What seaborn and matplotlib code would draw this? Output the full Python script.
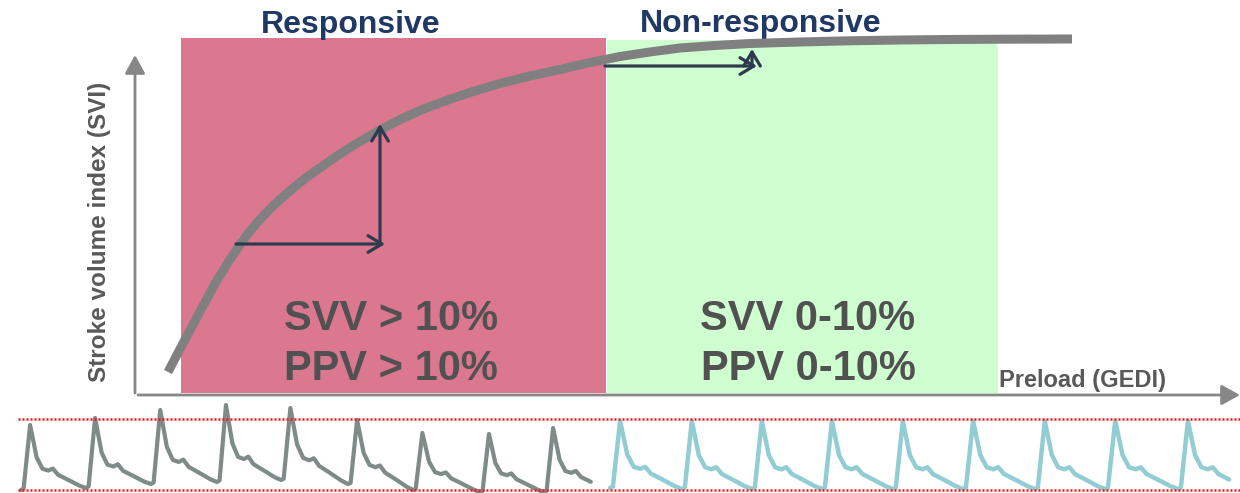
import numpy as np
import pandas as pd
import seaborn as sns
import matplotlib.pyplot as plt
from matplotlib.patches import Rectangle

# Frank-Starling curve, in diagram coordinates (x to the right, y downward)
curve_x = [168, 180, 192, 204, 216, 228, 240, 250, 260, 270, 280, 292, 305,
           320, 335, 350, 365, 380, 400, 420, 445, 470, 500, 530, 560, 590,
           620, 650, 680, 715, 750, 800, 850, 900, 950, 1000, 1072]
curve_y = [372, 349, 326.5, 304, 282, 262.5, 244.5, 231, 219.5, 209, 199.5,
           189, 178.5, 167.8, 157.3, 147.5, 138.5, 130, 119.6, 110.4, 101,
           92.5, 83.5, 76, 69.5, 62.5, 56.5, 52, 48, 45.5, 43.5, 42, 40.8,
           40, 39.5, 39.2, 39]

# One arterial pulse, as phase of the beat vs. normalised pressure level
pulse_phase = [0.00, 0.04, 0.14, 0.19, 0.24, 0.33, 0.42, 0.49, 0.57, 0.72, 0.90, 1.00]
pulse_level = [0.00, 0.02, 1.00, 0.75, 0.50, 0.32, 0.29, 0.32, 0.22, 0.14, 0.04, 0.00]

# Pressure trace under the responsive zone (large respiratory swing)
left_beat_starts = [21, 86, 151, 217, 281, 348, 413, 480, 544, 609]
left_troughs = [490, 488, 484, 482, 480, 484, 490, 492, 492, 490]
left_peaks = [425, 418, 410, 405, 408, 420, 433, 434, 428]

# Pressure trace under the non-responsive zone (flat peaks)
right_beat_starts = [610, 682, 752, 822, 893, 963, 1035, 1105, 1178, 1249]
right_troughs = [488, 489, 489, 489, 489, 489, 489, 489, 489, 489]
right_peaks = [421, 421, 421, 421, 421, 421, 421, 421, 421]

zone_labels = ["Responsive", "Non-responsive"]
zone_variation = [["SVV > 10%", "PPV > 10%"], ["SVV 0-10%", "PPV 0-10%"]]
y_label = "Stroke volume index (SVI)"
x_label = "Preload (GEDI)"


def build_trace(starts, troughs, peaks, x_max):
    xs, ys = [], []
    for i, peak in enumerate(peaks):
        x0, x1 = starts[i], starts[i + 1]
        t0, t1 = troughs[i], troughs[i + 1]
        for ph, lv in zip(pulse_phase, pulse_level):
            if i < len(peaks) - 1 and ph == 1.0:
                continue
            x = x0 + ph * (x1 - x0)
            if x > x_max:
                break
            base = t0 + ph * (t1 - t0)
            xs.append(x)
            ys.append(base - lv * (base - peak))
    return pd.DataFrame({"x": xs, "y": ys})


sns.set_theme(style="white")
plt.rcParams["font.family"] = ["Liberation Sans", "DejaVu Sans"]

fig = plt.figure(figsize=(12.4, 4.93), dpi=100)
ax = fig.add_axes([0, 0, 1, 1])
ax.set_xlim(0, 1240)
ax.set_ylim(493, 0)
ax.axis("off")

# zone backgrounds
ax.add_patch(Rectangle((181, 38), 424.5, 355, facecolor="#DB778F", lw=0, zorder=1))
ax.add_patch(Rectangle((607, 40), 391, 353, facecolor="#CFFFD0", lw=0, zorder=1))

# axes with arrowheads
axis_style = dict(arrowstyle="-|>,head_length=0.4,head_width=0.22", color="#878787",
                  lw=2, mutation_scale=28, shrinkA=0, shrinkB=0)
ax.annotate("", xy=(135, 55), xytext=(135, 393), arrowprops=axis_style, zorder=3)
ax.annotate("", xy=(1240, 395), xytext=(138, 395), arrowprops=axis_style, zorder=3)

# zone titles
title_pos = [(351, 33), (761, 32)]
for label, (tx, ty) in zip(zone_labels, title_pos):
    ax.text(tx, ty, label, ha="center", va="baseline", fontsize=23,
            fontweight="bold", color="#1F3864", zorder=2)

# variation thresholds
var_x = [391, 808]
for cx, lines in zip(var_x, zone_variation):
    for line, by in zip(lines, [330, 380]):
        ax.text(cx, by, line, ha="center", va="baseline", fontsize=30,
                fontweight="bold", color="#515151", zorder=4)

# curve
sns.lineplot(x=curve_x, y=curve_y, ax=ax, color="#808080", lw=6.5, sort=False,
             estimator=None, solid_capstyle="butt", solid_joinstyle="round", zorder=5)

# fluid-challenge arrows
dark = dict(arrowstyle="->,head_length=0.5,head_width=0.3", color="#2E3B4F",
            lw=2.3, mutation_scale=20, shrinkA=0, shrinkB=0)
ax.annotate("", xy=(385, 244), xytext=(236, 244), arrowprops=dark, zorder=6)
ax.annotate("", xy=(380, 124), xytext=(380, 244), arrowprops=dark, zorder=6)
ax.annotate("", xy=(757, 66), xytext=(605, 66), arrowprops=dark, zorder=6)
ax.annotate("", xy=(752, 49), xytext=(752, 66), arrowprops=dark, zorder=6)

# axis titles
ax.text(100, 232, y_label, rotation=90, ha="center", va="center", fontsize=17.5,
        fontweight="bold", color="#595959", zorder=4)
ax.text(999, 387, x_label, ha="left", va="baseline", fontsize=17,
        fontweight="bold", color="#595959", zorder=4)

# pressure traces and reference lines
left_trace = build_trace(left_beat_starts, left_troughs, left_peaks, 600)
right_trace = build_trace(right_beat_starts, right_troughs, right_peaks, 1240)
sns.lineplot(data=left_trace, x="x", y="y", ax=ax, color="#7E8B89", lw=3,
             sort=False, estimator=None, solid_joinstyle="round", zorder=5)
sns.lineplot(data=right_trace, x="x", y="y", ax=ax, color="#93CDD4", lw=3.2,
             sort=False, estimator=None, solid_joinstyle="round", zorder=5)
for ry in [419, 490]:
    ax.plot([18, 1240], [ry, ry], color="#FF1010", lw=1.8, ls=(0, (0.8, 0.8)), zorder=6)

fig.savefig("out.png", dpi=100)
